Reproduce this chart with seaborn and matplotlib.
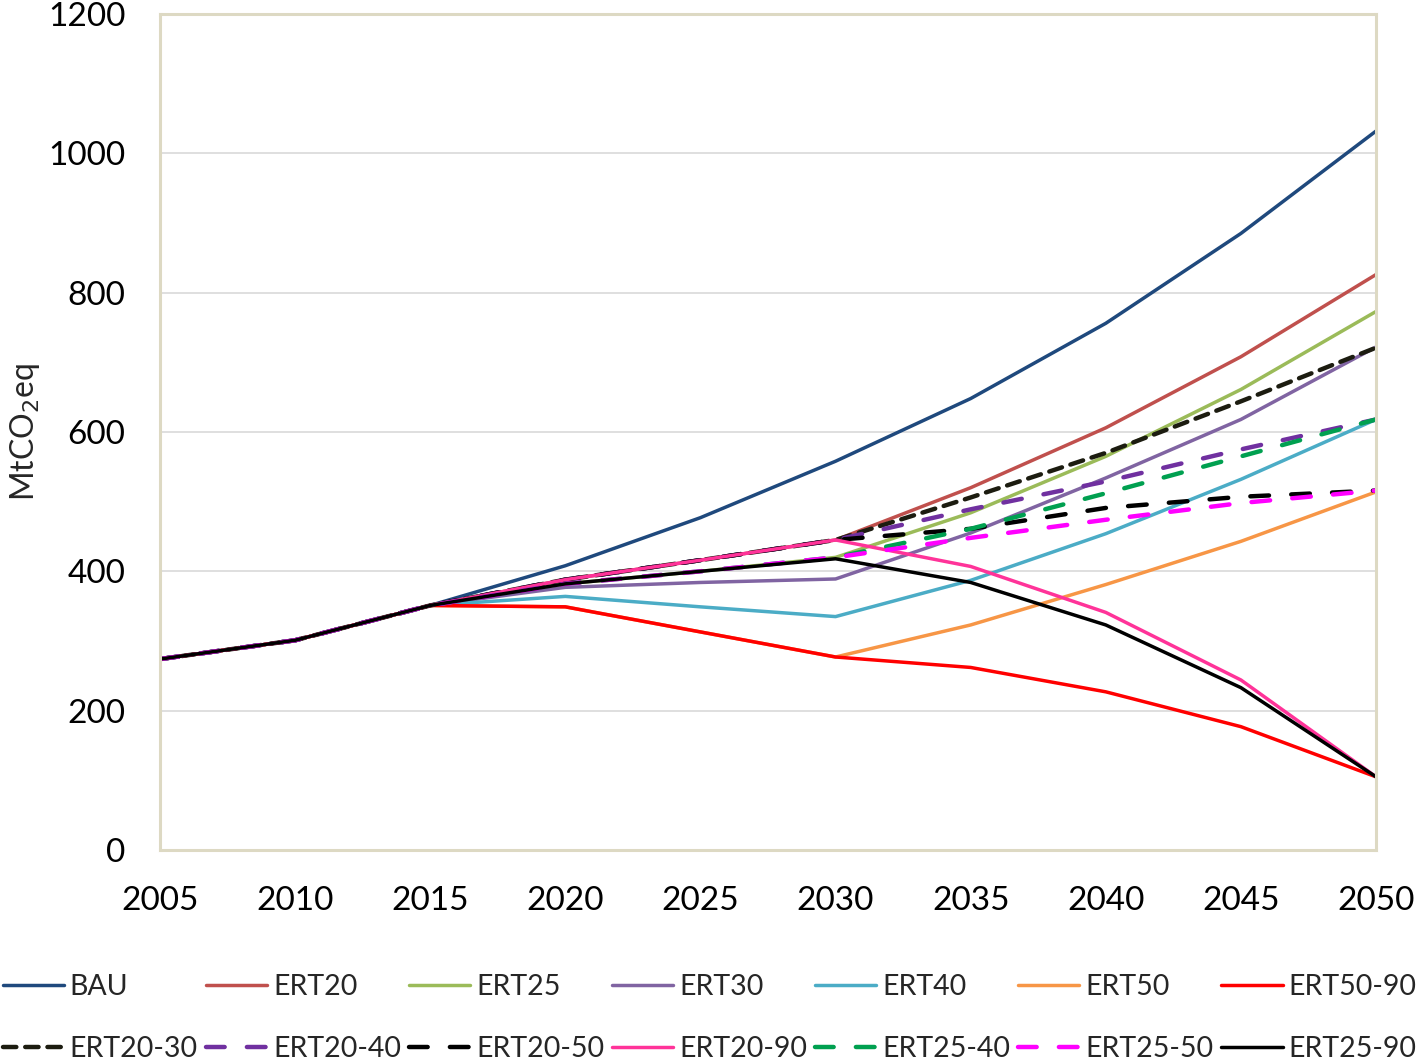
import numpy as np
import pandas as pd
import matplotlib
matplotlib.use("Agg")
import matplotlib.pyplot as plt
import seaborn as sns

years = [2005, 2010, 2015, 2020, 2025, 2030, 2035, 2040, 2045, 2050]

BAU = [274, 301, 351, 408, 477, 558, 648, 756, 885, 1032]
ERT20 = [274, 301, 351, 388, 416, 445, 520, 606, 708, 826]
ERT25 = [274, 301, 351, 382, 400, 420, 484, 565, 661, 773]
ERT30 = [274, 301, 351, 377, 384, 389, 455, 534, 618, 722]
ERT40 = [274, 301, 351, 364, 349, 335, 387, 454, 532, 618]
ERT50 = [274, 301, 351, 349, 313, 277, 323, 381, 443, 514]
ERT50_90 = [274, 301, 351, 349, 313, 277, 262, 227, 177, 105]
ERT20_30 = [274, 301, 351, 388, 416, 445, 506, 570, 644, 721]
ERT20_40 = [274, 301, 351, 388, 416, 445, 489, 529, 575, 618]
ERT20_50 = [274, 301, 351, 388, 416, 445, 461, 491, 507, 516]
ERT20_90 = [274, 301, 351, 388, 416, 445, 407, 341, 244, 105]
ERT25_40 = [274, 301, 351, 382, 400, 420, 461, 512, 565, 618]
ERT25_50 = [274, 301, 351, 382, 400, 420, 448, 474, 498, 516]
ERT25_90 = [274, 301, 351, 382, 400, 418, 384, 323, 233, 105]

names = ["BAU", "ERT20", "ERT25", "ERT30", "ERT40", "ERT50", "ERT50-90",
         "ERT20-30", "ERT20-40", "ERT20-50", "ERT20-90", "ERT25-40", "ERT25-50", "ERT25-90"]
series = [BAU, ERT20, ERT25, ERT30, ERT40, ERT50, ERT50_90,
          ERT20_30, ERT20_40, ERT20_50, ERT20_90, ERT25_40, ERT25_50, ERT25_90]
colors = ["#1F497D", "#C0504D", "#9BBB59", "#8064A2", "#4BACC6", "#F79646", "#FF0000",
          "#1C1C10", "#7030A0", "#000000", "#FF3399", "#00A050", "#FF00FF", "#000000"]
short = (3.0, 2.0)
long_ = (4.2, 5.0)
styles = [None, None, None, None, None, None, None,
          short, long_, long_, None, long_, long_, None]

sns.set_theme(style="white")
plt.rcParams["font.family"] = ["Lato", "DejaVu Sans"]

fig = plt.figure(figsize=(14.18, 10.61), dpi=100)
ax = fig.add_axes([0.1128, 0.1989, 0.8576, 0.7879])

for name, vals, col, dash in zip(names, series, colors, styles):
    df = pd.DataFrame({"year": years, "value": vals})
    if dash is None:
        sns.lineplot(data=df, x="year", y="value", ax=ax, color=col, lw=2.5,
                     label=name, solid_capstyle="round")
    else:
        line = sns.lineplot(data=df, x="year", y="value", ax=ax, color=col, lw=3.2,
                            label=name).lines[-1]
        line.set_dashes(dash)
        line.set_dash_capstyle("round")

ax.set_xlim(2005, 2050)
ax.set_ylim(0, 1200)
ax.set_xticks(years)
ax.set_yticks(range(0, 1201, 200))
ax.grid(axis="y", color="#D9D9D9", lw=1.2)
ax.set_axisbelow(True)
for s in ax.spines.values():
    s.set_color("#DDD9C3")
    s.set_linewidth(2.2)
ax.tick_params(axis="both", length=0, labelsize=24, colors="black")
ax.tick_params(axis="x", pad=26)
ax.tick_params(axis="y", pad=25)
ax.set_xlabel("")
ax.set_ylabel("MtCO$_2$eq", fontsize=23, labelpad=4)

# legend fills column by column, so interleave the two rows
handles, labels = ax.get_legend_handles_labels()
ax.get_legend().remove()
order = [i for pair in zip(range(7), range(7, 14)) for i in pair]
fig.legend([handles[i] for i in order], [labels[i] for i in order], ncol=7,
           loc="upper left", bbox_to_anchor=(-0.008, 0.0955), borderpad=0,
           frameon=False, fontsize=20.5, handlelength=2.15, handletextpad=0.2,
           columnspacing=0.285, labelspacing=1.27)

fig.savefig("out.png", dpi=100)
